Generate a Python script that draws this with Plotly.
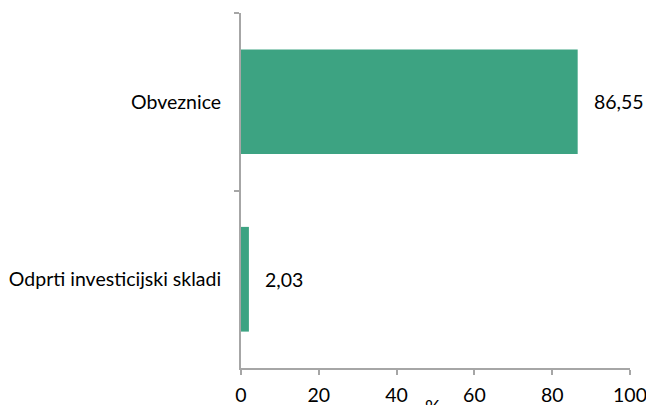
import plotly.graph_objects as go

categories = ["Obveznice", "Odprti investicijski skladi"]
values = [86.55, 2.03]
value_labels = ["86,55", "2,03"]
x_ticks = [0, 20, 40, 60, 80, 100]

BAR = "#3DA382"
AX = "#A6A6A6"
FONT = "Lato"
FS = 19.5

fig = go.Figure(go.Bar(
    x=values, y=categories, orientation="h",
    marker=dict(color=BAR, line=dict(width=0)),
    width=0.59, hoverinfo="skip",
))

for v, lab, c in zip(values, value_labels, categories):
    fig.add_annotation(x=v, y=c, text=lab, xanchor="left", showarrow=False,
                       xshift=14, font=dict(family=FONT, size=FS, color="#000"))

fig.add_annotation(x=0.5, y=0, xref="paper", yref="paper", text="%",
                   xanchor="center", yanchor="top", yshift=-25, xshift=-3,
                   showarrow=False,
                   font=dict(family=FONT, size=FS, color="#000"))

fig.update_layout(
    width=646, height=405,
    margin=dict(l=241, r=16, t=13, b=37, autoexpand=False),
    paper_bgcolor="white", plot_bgcolor="white",
    showlegend=False, separators=",.",
    font=dict(family=FONT, size=FS, color="#000"),
    xaxis=dict(range=[0, 100], tickvals=x_ticks, showgrid=False, zeroline=False,
               showline=True, linecolor=AX, linewidth=2, ticks="outside",
               tickcolor=AX, tickwidth=2, ticklen=5, ticklabelstandoff=4,
               ticklabeloverflow="allow", fixedrange=True),
    yaxis=dict(autorange="reversed", showgrid=False, zeroline=False,
               showline=True, linecolor=AX, linewidth=2, ticks="outside",
               tickson="boundaries", tickcolor=AX, tickwidth=2, ticklen=5,
               ticklabelstandoff=14, fixedrange=True),
)

fig.write_html("out.html", config={"displayModeBar": False, "staticPlot": True},
               post_script="document.body.style.margin='0';document.body.style.overflow='hidden';")
